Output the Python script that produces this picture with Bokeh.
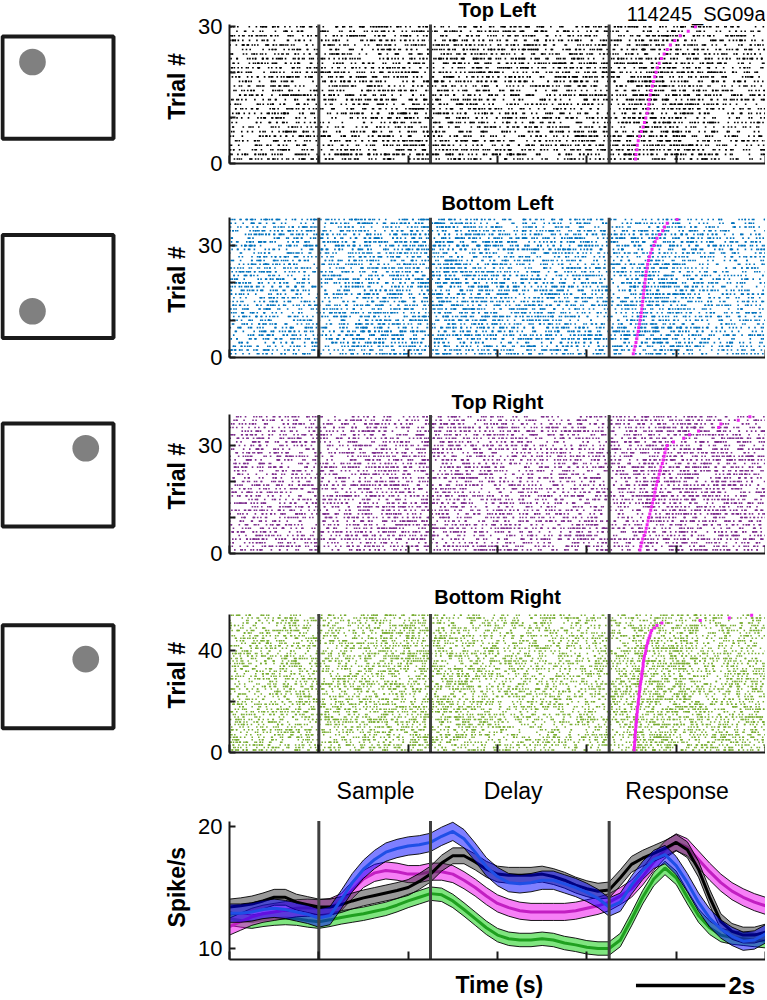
import numpy as np
from bokeh.plotting import figure
from bokeh.models import Range1d, FixedTicker, Spacer
from bokeh.layouts import row, column
from bokeh.embed import file_html
from bokeh.resources import INLINE
from bokeh.core.properties import value

FONT = "Liberation Sans"

# ---------------- data ----------------
conditions = ["Top Left", "Bottom Left", "Top Right", "Bottom Right"]
n_trials = [30, 37, 38, 54]
raster_colors = ["#000000", "#0072BD", "#7E2F8E", "#77AC30"]
icon_x = [0.27, 0.27, 0.75, 0.75]
icon_y = [0.75, 0.26, 0.76, 0.67]
event_times = [0.0, 2.5, 6.5]
epoch_labels = ["Sample", "Delay", "Response"]
epoch_label_x = [1.27, 4.35, 8.02]
session_id = "114245_SG09a"
x_ticks = [-2, 0, 2, 4, 6, 8, 10]
scalebar_start = 7.1
scalebar_len = 2.0

time_s = [-2.0, -1.75, -1.5, -1.25, -1.0, -0.75, -0.5, -0.25, 0.0, 0.25, 0.5, 0.75,
          1.0, 1.25, 1.5, 1.75, 2.0, 2.25, 2.5, 2.75, 3.0, 3.25, 3.5, 3.75, 4.0, 4.25,
          4.5, 4.75, 5.0, 5.25, 5.5, 5.75, 6.0, 6.25, 6.5, 6.75, 7.0, 7.25, 7.5, 7.75,
          8.0, 8.25, 8.5, 8.75, 9.0, 9.25, 9.5, 9.75, 10.0]
rate_top_left = [13.4, 13.5, 13.65, 13.9, 14.2, 14.2, 13.8, 13.6, 13.4, 13.4, 13.6, 13.9,
                 14.15, 14.35, 14.55, 14.75, 15.0, 15.5, 16.1, 17.0, 17.6, 17.6, 17.1, 16.5,
                 16.1, 16.0, 16.0, 16.0, 16.1, 15.9, 15.6, 15.2, 14.9, 14.7, 14.8, 15.8,
                 16.9, 17.4, 17.8, 18.2, 18.7, 18.1, 16.5, 14.2, 12.2, 11.4, 11.1, 11.1, 11.35]
rate_bottom_left = [12.9, 12.9, 13.0, 13.2, 13.3, 13.2, 13.0, 12.8, 12.5, 12.7, 14.0, 15.4,
                    16.5, 17.3, 17.9, 18.2, 18.4, 18.5, 18.7, 19.2, 19.6, 19.0, 17.9, 16.7,
                    15.9, 15.4, 15.3, 15.4, 15.6, 15.6, 15.3, 15.0, 14.6, 14.1, 13.4, 13.8,
                    15.2, 16.4, 17.3, 17.7, 16.8, 15.4, 13.8, 12.5, 11.6, 11.0, 10.6, 10.7, 11.2]
rate_top_right = [11.8, 12.2, 12.6, 12.85, 13.0, 13.15, 13.3, 13.35, 13.3, 13.4, 13.8, 14.8,
                  15.7, 16.2, 16.4, 16.3, 16.1, 16.1, 16.3, 16.3, 16.1, 15.6, 15.0, 14.3,
                  13.7, 13.35, 13.1, 13.0, 13.0, 13.0, 13.0, 13.1, 13.3, 13.5, 13.8, 14.3,
                  14.9, 15.9, 17.1, 18.1, 18.7, 18.3, 17.3, 16.3, 15.4, 14.7, 14.2, 13.8, 13.5]
rate_bottom_right = [12.45, 12.3, 12.2, 12.35, 12.45, 12.5, 12.45, 12.3, 12.2, 12.35, 12.55, 12.7,
                     12.85, 13.05, 13.25, 13.55, 13.9, 14.2, 14.5, 14.4, 13.9, 13.2, 12.45, 11.7,
                     11.1, 10.8, 10.7, 10.7, 10.8, 10.7, 10.45, 10.3, 10.1, 10.0, 10.0, 10.7,
                     12.4, 14.2, 15.7, 16.6, 15.8, 14.2, 12.7, 11.7, 11.1, 10.9, 10.8, 10.7, 10.6]
rate_sem = [0.65, 0.75, 0.7, 0.55]

rt_top_left = [7.09, 7.10, 7.12, 7.13, 7.15, 7.18, 7.22, 7.26, 7.29, 7.32, 7.35, 7.37, 7.39,
               7.40, 7.42, 7.44, 7.47, 7.49, 7.52, 7.55, 7.58, 7.62, 7.67, 7.73, 7.80, 7.87,
               7.97, 8.09, 8.27, 8.43]
rt_bottom_left = [7.04, 7.06, 7.08, 7.10, 7.12, 7.13, 7.15, 7.16, 7.18, 7.19, 7.21, 7.22, 7.23,
                  7.24, 7.25, 7.26, 7.27, 7.28, 7.29, 7.30, 7.31, 7.32, 7.33, 7.35, 7.36, 7.38,
                  7.40, 7.43, 7.46, 7.50, 7.53, 7.57, 7.63, 7.70, 7.74, 7.80, 8.02]
rt_top_right = [7.19, 7.21, 7.23, 7.25, 7.28, 7.31, 7.33, 7.35, 7.37, 7.39, 7.41, 7.43, 7.45,
                7.47, 7.49, 7.51, 7.52, 7.54, 7.56, 7.58, 7.60, 7.62, 7.64, 7.66, 7.69, 7.71,
                7.73, 7.75, 7.77, 7.80, 7.94, 8.17, 8.30, 8.50, 8.95, 9.00, 9.39, 9.65]
rt_bottom_right = [7.06, 7.06, 7.07, 7.07, 7.08, 7.08, 7.08, 7.09, 7.09, 7.10, 7.10, 7.11, 7.11,
                   7.12, 7.12, 7.13, 7.13, 7.14, 7.15, 7.15, 7.16, 7.17, 7.17, 7.18, 7.19, 7.19,
                   7.20, 7.21, 7.22, 7.23, 7.23, 7.24, 7.25, 7.26, 7.26, 7.27, 7.28, 7.29, 7.31,
                   7.32, 7.33, 7.34, 7.36, 7.37, 7.39, 7.41, 7.43, 7.45, 7.51, 7.57, 7.68, 8.54,
                   9.19, 9.69]

rates = [rate_top_left, rate_bottom_left, rate_top_right, rate_bottom_right]
rts = [rt_top_left, rt_bottom_left, rt_top_right, rt_bottom_right]

band_colors = ["#333333", "#0000ff", "#ee00ee", "#00cc00"]
mean_colors = ["#000000", "#1f4fe6", "#c21fc2", "#1fa01f"]

# ---------------- layout constants (pixels) ----------------
LW = 193            # left column (icons + axis titles)
RLEFT = 36          # raster figure left border (tick labels)
FRAME_W = 536
RW = RLEFT + FRAME_W
BOTTOM = 14
raster_heights = [177, 194, 196, 199]
px_per_trial = [4.56, 3.73, 3.6, 2.54]
title_offset = [9, 25, 30, 29]
id_offset = 13
icon_top = [39, 62, 56, 62]
ICON_PX = 111.0
ICON_LEFT = 2
AXIS_TITLE_X = 176

xr = Range1d(-2, 10)


def style_axes(p):
    p.outline_line_color = None
    p.grid.visible = False
    for ax in (p.xaxis[0], p.yaxis[0]):
        ax.axis_line_width = 2
        ax.axis_line_color = "#1a1a1a"
        ax.major_tick_line_width = 2
        ax.major_tick_line_color = "#1a1a1a"
        ax.major_tick_out = 0
        ax.minor_tick_line_color = None
        ax.major_label_text_font = FONT
        ax.major_label_text_font_size = "22px"
        ax.major_label_text_color = "#000000"
    p.xaxis.major_tick_in = 8
    p.yaxis.major_tick_in = 6
    p.xaxis.ticker = FixedTicker(ticks=x_ticks)
    p.xaxis.major_label_overrides = {t: "" for t in x_ticks}
    p.xaxis.major_label_text_font_size = "1px"
    p.xaxis.major_label_standoff = 0
    p.yaxis.major_label_standoff = 7


def left_fig(height, top_off, label=None, label_center_px=None, icon=None):
    lf = figure(width=LW, height=height,
                x_range=Range1d(-ICON_LEFT / ICON_PX, (LW - ICON_LEFT) / ICON_PX),
                y_range=Range1d(-(height - top_off - ICON_PX) / ICON_PX, 1 + top_off / ICON_PX),
                output_backend="svg", toolbar_location=None, min_border=0,
                x_axis_location=None, y_axis_location=None)
    lf.outline_line_color = None
    lf.grid.visible = False
    if icon is not None:
        lf.quad(left=[0], right=[1], bottom=[0], top=[1], fill_color="white",
                line_color="#1a1a1a", line_width=4)
        lf.circle(x=[icon_x[icon]], y=[icon_y[icon]], radius=0.12,
                  fill_color="#808080", line_color=None)
    if label is not None:
        lx = (AXIS_TITLE_X - ICON_LEFT) / ICON_PX
        ly = 1 + (top_off - label_center_px) / ICON_PX
        lf.text(x=[lx], y=[ly], text=[label], angle=np.pi / 2,
                text_font=value(FONT), text_font_style="bold", text_font_size="23px",
                text_align="center", text_baseline="middle", text_color="#000000")
    return lf


def unit_hash(n):
    return np.modf(np.abs(np.sin(n * 12.9898 + 78.233) * 43758.5453))[0]


grid = np.linspace(-2, 10, 6001)
dt = grid[1] - grid[0]


def spikes_for(ci, n):
    r = np.interp(grid, time_s, rates[ci])
    cum = np.concatenate([[0.0], np.cumsum(r[:-1] * dt)])
    total = cum[-1]
    xs, ys = [], []
    for k in range(n):
        idx = np.arange(500) + 1000 * k + 100000 * (ci + 1)
        u = unit_hash(idx.astype(float))
        thr = np.cumsum(-np.log(1.0 - 0.999 * u))
        thr = thr[thr < total]
        t = np.interp(thr, cum, grid)
        xs.append(t)
        ys.append(np.full(len(t), k + 1.0))
    return np.concatenate(xs), np.concatenate(ys)


rows = []
for i, name in enumerate(conditions):
    N = n_trials[i]
    H = raster_heights[i]
    FH = H - BOTTOM
    ppt = px_per_trial[i]
    ytop = FH / ppt
    p = figure(width=RW, height=H, x_range=xr, y_range=Range1d(0, ytop),
               output_backend="svg", toolbar_location=None,
               min_border_left=RLEFT, min_border_right=0, min_border_top=0,
               min_border_bottom=BOTTOM)
    style_axes(p)
    yt = [0, 20, 40] if N > 45 else [0, 10, 20, 30]
    p.yaxis.ticker = FixedTicker(ticks=yt)
    p.yaxis.major_label_overrides = {t: "" for t in yt[1:-1]}
    p.yaxis.bounds = (0, N + 0.5)

    sx, sy = spikes_for(i, N)
    p.scatter(sx, sy, marker="square", size=1.6 if N < 45 else 1.5,
              fill_color=raster_colors[i], line_color=None)
    p.segment(x0=event_times, y0=[0] * 3, x1=event_times, y1=[N + 0.5] * 3,
              line_width=3, line_color="#404040")
    p.scatter(rts[i], list(range(1, N + 1)), marker="square", size=3,
              fill_color="#ee22ee", line_color=None)
    ty = (FH - title_offset[i]) / ppt
    p.text(x=[(xr.start + xr.end) / 2], y=[ty], text=[name],
           text_font=value(FONT), text_font_style="bold", text_font_size="20px",
           text_align="center", text_baseline="middle", text_color="#000000")
    if i == 0:
        p.text(x=[xr.end], y=[(FH - id_offset) / ppt], text=[session_id],
               text_font=value(FONT), text_font_size="20px", text_align="right",
               text_baseline="middle", text_color="#000000")

    data_top_px = FH - (N + 0.5) * ppt
    lf = left_fig(H, icon_top[i], "Trial #", (data_top_px + FH) / 2, icon=i)
    rows.append(row(lf, p))

# ---------------- PSTH ----------------
H5 = 198
B5 = 5
ppu = 12.2
y0 = 9.1
y1 = y0 + (H5 - B5) / ppu
line_top = 20.45
p5 = figure(width=RW, height=H5, x_range=xr, y_range=Range1d(y0, y1),
            output_backend="svg", toolbar_location=None,
            min_border_left=RLEFT, min_border_right=0, min_border_top=0,
            min_border_bottom=B5)
style_axes(p5)
p5.yaxis.ticker = FixedTicker(ticks=[10, 20])
p5.yaxis.bounds = (y0, line_top)

t_arr = np.array(time_s)
for ci in [3, 2, 0, 1]:
    m = np.array(rates[ci])
    lo = m - rate_sem[ci]
    hi = m + rate_sem[ci]
    p5.varea(x=t_arr, y1=lo, y2=hi, fill_color=band_colors[ci], fill_alpha=0.5)
    p5.line(t_arr, lo, line_color="#000000", line_width=0.9)
    p5.line(t_arr, hi, line_color="#000000", line_width=0.9)
    p5.line(t_arr, m, line_color=mean_colors[ci], line_width=3)

p5.segment(x0=event_times, y0=[y0] * 3, x1=event_times, y1=[line_top] * 3,
           line_width=3, line_color="#404040")
p5.text(x=epoch_label_x, y=[y1 - 24 / ppu] * 3, text=epoch_labels,
        text_font=value(FONT), text_font_size="23px", text_align="center",
        text_baseline="middle", text_color="#000000")
FH5 = H5 - B5
spk_center_px = ((y1 - line_top) * ppu + FH5) / 2
lf5 = left_fig(H5, 0, "Spike/s", spk_center_px)
rows.append(row(lf5, p5))

# ---------------- time label / scale bar ----------------
H6 = 36
p6 = figure(width=RW, height=H6, x_range=xr, y_range=Range1d(0, 1),
            output_backend="svg", toolbar_location=None,
            min_border_left=RLEFT, min_border_right=0, min_border_top=0,
            min_border_bottom=0, x_axis_location=None, y_axis_location=None)
p6.outline_line_color = None
p6.grid.visible = False
ylab = 0.42
p6.text(x=[4.04], y=[ylab], text=["Time (s)"], text_font=value(FONT),
        text_font_style="bold", text_font_size="23px", text_align="center",
        text_baseline="middle", text_color="#000000")
p6.segment(x0=[scalebar_start], y0=[ylab], x1=[scalebar_start + scalebar_len], y1=[ylab],
           line_width=3.5, line_color="#000000")
p6.text(x=[scalebar_start + scalebar_len + 0.07], y=[ylab], text=["2s"],
        text_font=value(FONT), text_font_style="bold", text_font_size="24px",
        text_align="left", text_baseline="middle", text_color="#000000")
rows.append(row(Spacer(width=LW, height=H6), p6))

layout = column(*rows)
open("out.html", "w").write(file_html(layout, INLINE))
